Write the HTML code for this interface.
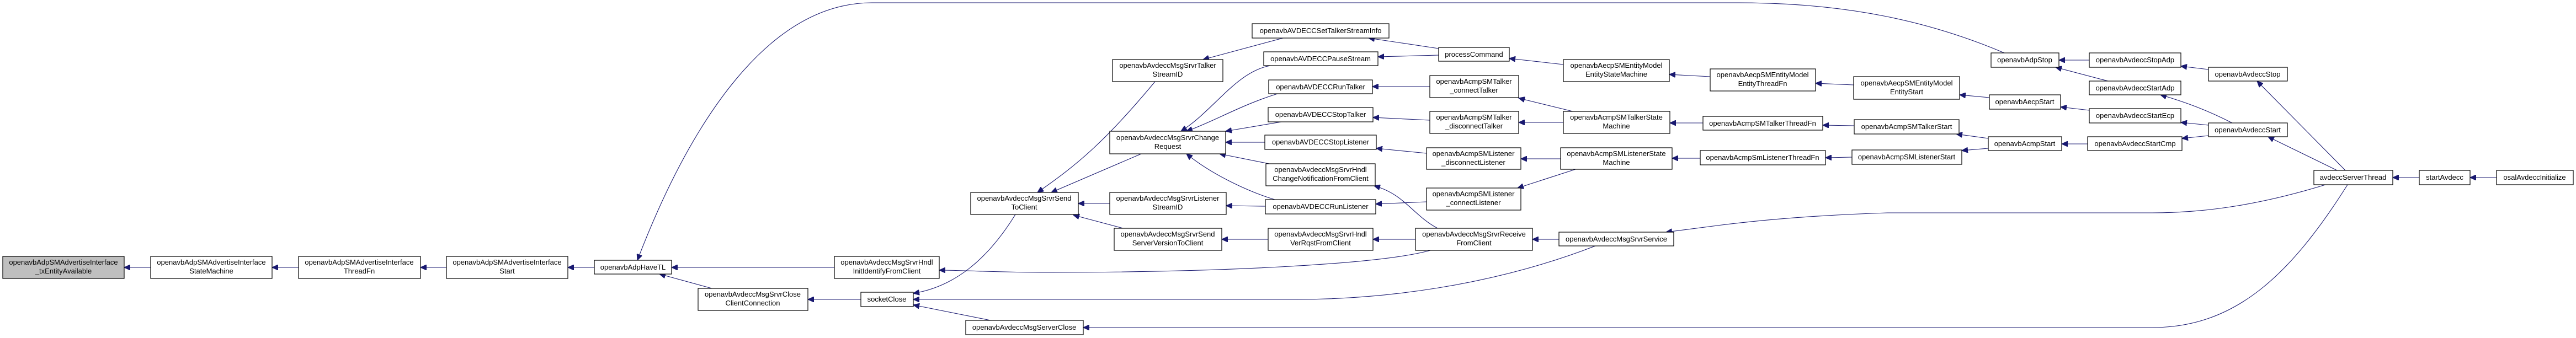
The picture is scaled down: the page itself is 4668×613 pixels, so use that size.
<!DOCTYPE html>
<html><head><meta charset="utf-8"><style>
html,body{margin:0;padding:0;background:#fff;}
svg{display:block;}
text{font-family:"Liberation Sans",sans-serif;font-size:13px;fill:#000;text-anchor:middle;}
rect{fill:#fff;stroke:#000;stroke-width:1.2;}
path{fill:none;stroke:#191970;stroke-width:1.1;}
</style></head><body>
<svg width="4668" height="613" viewBox="0 0 4668 613" xmlns="http://www.w3.org/2000/svg">
<defs><marker id="a" markerUnits="userSpaceOnUse" markerWidth="12" markerHeight="10" refX="11" refY="5" orient="auto"><path d="M0,0 L11,5 L0,10 Z" style="fill:#191970;stroke:#191970"/></marker></defs>
<g marker-end="url(#a)">
<path d="M273,485 L225,485"/>
<path d="M541,485 L493,485"/>
<path d="M809,485 L762,485"/>
<path d="M1077,485 L1029,485"/>
<path d="M1512,485 L1217,485"/>
<path d="M1290,523 L1195,497"/>
<path d="M3632,96 C3500,40 3350,5 3150,5 L1580,5 C1380,5 1240,250 1155,472"/>
<path d="M1560,543 L1464,543"/>
<path d="M1840,389 C1790,470 1730,520 1655,532"/>
<path d="M2891,446 C2700,520 2500,543 2350,543 L1655,543"/>
<path d="M1795,581 L1655,553"/>
<path d="M4254,335 C4150,500 4050,594 3900,594 L1963,594"/>
<path d="M2093,148 C2000,260 1950,300 1880,349"/>
<path d="M2068,279 L1905,349"/>
<path d="M2011,369 L1954,369"/>
<path d="M2035,414 L1945,390"/>
<path d="M2325,69 L2180,108"/>
<path d="M2302,119 C2240,130 2200,200 2140,238"/>
<path d="M2315,170 C2250,190 2200,220 2150,238"/>
<path d="M2322,221 L2221,238"/>
<path d="M2292,258 L2221,258"/>
<path d="M2300,297 L2210,279"/>
<path d="M2310,362 C2270,350 2200,320 2150,279"/>
<path d="M2293,374 L2222,373"/>
<path d="M2298,434 L2214,434"/>
<path d="M2607,88 L2480,69"/>
<path d="M2607,100 L2497,103"/>
<path d="M2591,157 L2487,157"/>
<path d="M2591,218 L2488,213"/>
<path d="M2585,278 L2494,269"/>
<path d="M2585,366 L2493,370"/>
<path d="M2605,414 C2560,390 2545,352 2490,337"/>
<path d="M2565,434 L2488,434"/>
<path d="M2592,454 C2500,480 2200,494 1900,494 C1800,494 1750,490 1702,490"/>
<path d="M2833,117 L2735,106"/>
<path d="M2850,202 L2752,178"/>
<path d="M2833,222 L2752,222"/>
<path d="M2828,288 L2756,288"/>
<path d="M2855,307 L2750,341"/>
<path d="M2825,434 L2777,434"/>
<path d="M4214,335 C4100,370 4000,386 3900,386 L3420,386 C3300,390 3200,398 3120,408 L3019,421"/>
<path d="M3099,139 L3025,135"/>
<path d="M3086,223 L3026,223"/>
<path d="M3081,287 L3030,287"/>
<path d="M3359,154 L3290,151"/>
<path d="M3360,228 L3303,227"/>
<path d="M3356,285 L3308,286"/>
<path d="M3605,177 L3551,172"/>
<path d="M3603,251 L3545,243"/>
<path d="M3603,269 L3555,273"/>
<path d="M3786,109 L3731,109"/>
<path d="M3820,147 L3725,122"/>
<path d="M3786,200 L3734,194"/>
<path d="M3783,261 L3736,261"/>
<path d="M4002,126 L3952,120"/>
<path d="M4045,223 C4000,200 3960,185 3915,172"/>
<path d="M4002,227 L3952,222"/>
<path d="M4002,246 L3954,251"/>
<path d="M4250,309 L4090,147"/>
<path d="M4235,309 L4110,248"/>
<path d="M4384,322 L4336,322"/>
<path d="M4524,322 L4476,322"/>
</g>

<rect x="5" y="465" width="220" height="40" style="fill:#bfbfbf"/><text x="115" y="480">openavbAdpSMAdvertiseInterface</text><text x="115" y="496">_txEntityAvailable</text>
<rect x="273" y="465" width="220" height="40"/><text x="383" y="480">openavbAdpSMAdvertiseInterface</text><text x="383" y="496">StateMachine</text>
<rect x="541" y="465" width="221" height="40"/><text x="651" y="480">openavbAdpSMAdvertiseInterface</text><text x="651" y="496">ThreadFn</text>
<rect x="809" y="465" width="220" height="40"/><text x="919" y="480">openavbAdpSMAdvertiseInterface</text><text x="919" y="496">Start</text>
<rect x="1077" y="472" width="140" height="25"/><text x="1147" y="489">openavbAdpHaveTL</text>
<rect x="1512" y="465" width="190" height="40"/><text x="1607" y="480">openavbAvdeccMsgSrvrHndl</text><text x="1607" y="496">InitIdentifyFromClient</text>
<rect x="1265" y="523" width="199" height="40"/><text x="1364" y="538">openavbAvdeccMsgSrvrClose</text><text x="1364" y="554">ClientConnection</text>
<rect x="1560" y="530" width="95" height="26"/><text x="1607" y="547">socketClose</text>
<rect x="1750" y="581" width="213" height="26"/><text x="1856" y="598">openavbAvdeccMsgServerClose</text>
<rect x="1759" y="349" width="195" height="40"/><text x="1856" y="364">openavbAvdeccMsgSrvrSend</text><text x="1856" y="380">ToClient</text>
<rect x="2016" y="108" width="200" height="40"/><text x="2116" y="123">openavbAvdeccMsgSrvrTalker</text><text x="2116" y="139">StreamID</text>
<rect x="2011" y="238" width="210" height="41"/><text x="2116" y="254">openavbAvdeccMsgSrvrChange</text><text x="2116" y="270">Request</text>
<rect x="2011" y="349" width="211" height="40"/><text x="2116" y="364">openavbAvdeccMsgSrvrListener</text><text x="2116" y="380">StreamID</text>
<rect x="2019" y="414" width="195" height="40"/><text x="2116" y="429">openavbAvdeccMsgSrvrSend</text><text x="2116" y="445">ServerVersionToClient</text>
<rect x="2269" y="43" width="248" height="26"/><text x="2393" y="60">openavbAVDECCSetTalkerStreamInfo</text>
<rect x="2290" y="94" width="207" height="25"/><text x="2393" y="111">openavbAVDECCPauseStream</text>
<rect x="2299" y="145" width="188" height="25"/><text x="2393" y="162">openavbAVDECCRunTalker</text>
<rect x="2298" y="195" width="190" height="26"/><text x="2393" y="212">openavbAVDECCStopTalker</text>
<rect x="2292" y="245" width="202" height="26"/><text x="2393" y="262">openavbAVDECCStopListener</text>
<rect x="2294" y="297" width="198" height="40"/><text x="2393" y="312">openavbAvdeccMsgSrvrHndl</text><text x="2393" y="328">ChangeNotificationFromClient</text>
<rect x="2293" y="362" width="200" height="26"/><text x="2393" y="379">openavbAVDECCRunListener</text>
<rect x="2298" y="414" width="190" height="40"/><text x="2393" y="429">openavbAvdeccMsgSrvrHndl</text><text x="2393" y="445">VerRqstFromClient</text>
<rect x="2607" y="86" width="128" height="25"/><text x="2671" y="103">processCommand</text>
<rect x="2833" y="108" width="192" height="40"/><text x="2929" y="123">openavbAecpSMEntityModel</text><text x="2929" y="139">EntityStateMachine</text>
<rect x="2591" y="137" width="161" height="40"/><text x="2671" y="152">openavbAcmpSMTalker</text><text x="2671" y="168">_connectTalker</text>
<rect x="2591" y="202" width="161" height="40"/><text x="2671" y="217">openavbAcmpSMTalker</text><text x="2671" y="233">_disconnectTalker</text>
<rect x="2833" y="202" width="193" height="40"/><text x="2929" y="217">openavbAcmpSMTalkerState</text><text x="2929" y="233">Machine</text>
<rect x="2585" y="268" width="171" height="39"/><text x="2670" y="283">openavbAcmpSMListener</text><text x="2670" y="299">_disconnectListener</text>
<rect x="2828" y="268" width="202" height="39"/><text x="2929" y="283">openavbAcmpSMListenerState</text><text x="2929" y="299">Machine</text>
<rect x="2585" y="341" width="171" height="40"/><text x="2670" y="356">openavbAcmpSMListener</text><text x="2670" y="372">_connectListener</text>
<rect x="2565" y="414" width="212" height="40"/><text x="2671" y="429">openavbAvdeccMsgSrvrReceive</text><text x="2671" y="445">FromClient</text>
<rect x="2825" y="421" width="208" height="25"/><text x="2929" y="438">openavbAvdeccMsgSrvrService</text>
<rect x="3099" y="125" width="191" height="40"/><text x="3194" y="140">openavbAecpSMEntityModel</text><text x="3194" y="156">EntityThreadFn</text>
<rect x="3086" y="211" width="217" height="25"/><text x="3194" y="228">openavbAcmpSMTalkerThreadFn</text>
<rect x="3081" y="273" width="227" height="26"/><text x="3194" y="290">openavbAcmpSmListenerThreadFn</text>
<rect x="3359" y="139" width="192" height="41"/><text x="3455" y="155">openavbAecpSMEntityModel</text><text x="3455" y="171">EntityStart</text>
<rect x="3360" y="217" width="190" height="26"/><text x="3455" y="234">openavbAcmpSMTalkerStart</text>
<rect x="3356" y="272" width="199" height="26"/><text x="3455" y="289">openavbAcmpSMListenerStart</text>
<rect x="3608" y="96" width="123" height="26"/><text x="3669" y="113">openavbAdpStop</text>
<rect x="3605" y="172" width="129" height="26"/><text x="3669" y="189">openavbAecpStart</text>
<rect x="3603" y="248" width="133" height="25"/><text x="3669" y="265">openavbAcmpStart</text>
<rect x="3786" y="96" width="166" height="26"/><text x="3869" y="113">openavbAvdeccStopAdp</text>
<rect x="3786" y="147" width="166" height="25"/><text x="3869" y="164">openavbAvdeccStartAdp</text>
<rect x="3786" y="197" width="166" height="26"/><text x="3869" y="214">openavbAvdeccStartEcp</text>
<rect x="3783" y="248" width="171" height="25"/><text x="3869" y="265">openavbAvdeccStartCmp</text>
<rect x="4002" y="122" width="143" height="25"/><text x="4073" y="139">openavbAvdeccStop</text>
<rect x="4002" y="223" width="143" height="25"/><text x="4073" y="240">openavbAvdeccStart</text>
<rect x="4193" y="309" width="143" height="26"/><text x="4264" y="326">avdeccServerThread</text>
<rect x="4384" y="309" width="92" height="26"/><text x="4430" y="326">startAvdecc</text>
<rect x="4524" y="309" width="139" height="26"/><text x="4593" y="326">osalAvdeccInitialize</text>
</svg>
</body></html>
